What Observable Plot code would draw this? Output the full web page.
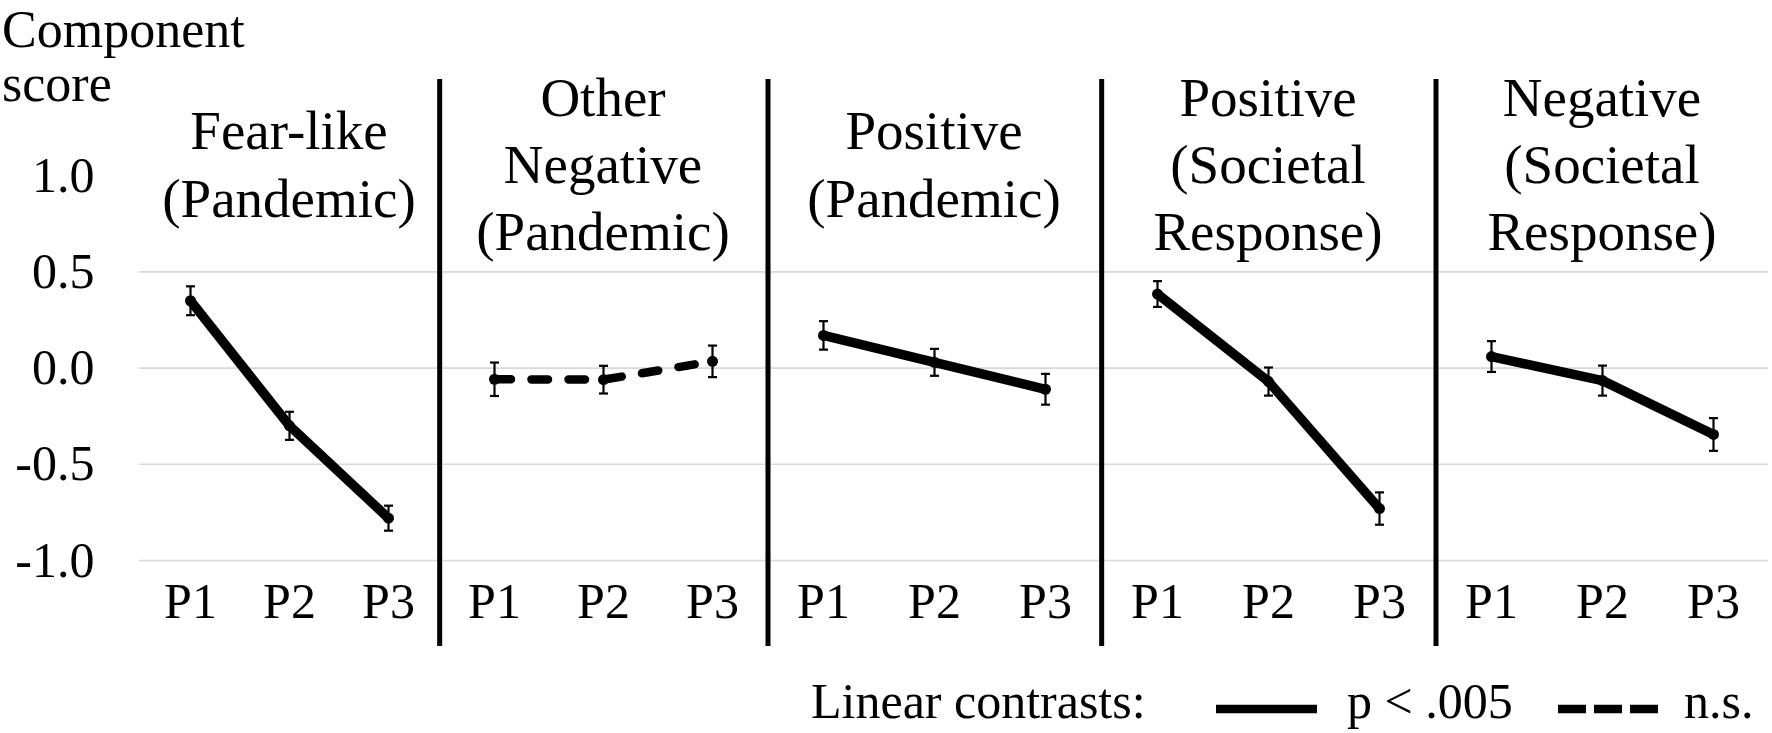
<!DOCTYPE html>
<html>
<head>
<meta charset="utf-8">
<script src="https://cdn.jsdelivr.net/npm/d3@7"></script>
<script src="https://cdn.jsdelivr.net/npm/@observablehq/plot@0.6"></script>
<style>
  html, body { margin: 0; padding: 0; background: #fff; }
  #chart { position: relative; width: 1772px; height: 733px; background: #fff; overflow: hidden; color: #000; }
  .panel { position: absolute; top: 0; }
  .txt { position: absolute; white-space: nowrap; font-size: 50px; line-height: 50px; }
  .ylab { position: absolute; left: 2px; white-space: nowrap; font-size: 52px; line-height: 44px; }
</style>
</head>
<body>
<div id="chart"></div>
<script>
// ---- data ----
const periods = ["P1", "P2", "P3"];
const componentTitles = [
  "Fear-like\n(Pandemic)",
  "Other\nNegative\n(Pandemic)",
  "Positive\n(Pandemic)",
  "Positive\n(Societal\nResponse)",
  "Negative\n(Societal\nResponse)"
];
const fearLikeMean  = [0.35, -0.30, -0.78];
const otherNegMean  = [-0.058, -0.06, 0.035];
const posPandMean   = [0.17, 0.03, -0.11];
const posSocMean    = [0.385, -0.07, -0.73];
const negSocMean    = [0.06, -0.065, -0.345];
const fearLikeErr   = [0.075, 0.073, 0.065];
const otherNegErr   = [0.087, 0.072, 0.082];
const posPandErr    = [0.074, 0.07, 0.08];
const posSocErr     = [0.067, 0.073, 0.084];
const negSocErr     = [0.08, 0.078, 0.085];
const significant   = [true, false, true, true, true];
const yTicks = [-1.0, -0.5, 0.0, 0.5, 1.0];
const gridValues = [-1.0, -0.5, 0.0, 0.5];
const yTitleLines = ["Component", "score"];
const legendTitle = "Linear contrasts:";
const legendLabels = ["p < .005", "n.s."];

const means = [fearLikeMean, otherNegMean, posPandMean, posSocMean, negSocMean];
const errs = [fearLikeErr, otherNegErr, posPandErr, posSocErr, negSocErr];

// ---- layout (styles only) ----
const panelLefts  = [0, 438, 767, 1100, 1435];
const panelWidths = [438, 329, 333, 335, 333];
const firstMarginLeft = 139;
const font = "'Liberation Serif', 'Times New Roman', serif";

const capSymbol = {
  draw(context, size) {
    const w = Math.sqrt(size / Math.PI);
    context.moveTo(-w, 0);
    context.lineTo(w, 0);
  }
};

const chart = document.getElementById("chart");
chart.style.fontFamily = font;

componentTitles.forEach((title, i) => {
  const data = periods.map((p, j) => ({
    period: p,
    mean: means[i][j],
    lo: means[i][j] - errs[i][j],
    hi: means[i][j] + errs[i][j]
  }));
  const ml = i === 0 ? firstMarginLeft : 0;
  const plotW = panelWidths[i] - ml;
  const sig = significant[i];
  const marks = [
    Plot.ruleY(gridValues, {stroke: "#d9d9d9", strokeWidth: 1.6}),
    Plot.line(data, {
      x: "period", y: "mean", stroke: "black", strokeWidth: sig ? 9.5 : 8.5,
      strokeLinejoin: "round", strokeLinecap: sig ? "butt" : "round",
      strokeDasharray: sig ? null : "16.5,20.5"
    }),
    Plot.ruleX(data, {x: "period", y1: "lo", y2: "hi", stroke: "black", strokeWidth: 2.2}),
    Plot.dot(data, {x: "period", y: "lo", symbol: capSymbol, r: 4.5, stroke: "black", strokeWidth: 2.2, fill: "none"}),
    Plot.dot(data, {x: "period", y: "hi", symbol: capSymbol, r: 4.5, stroke: "black", strokeWidth: 2.2, fill: "none"}),
    Plot.dot(data, {x: "period", y: "mean", r: 5.5, fill: "black"}),
    Plot.text([title], {
      text: d => d, frameAnchor: "top", dy: 82, lineAnchor: "middle",
      fontSize: 55, lineHeight: 1.22, fill: "black", fontFamily: font
    })
  ];
  if (i > 0) {
    marks.push(Plot.ruleX([periods[0]], {
      dx: -plotW / 6, insetBottom: -86, stroke: "black", strokeWidth: 5
    }));
  }
  const svg = Plot.plot({
    width: panelWidths[i],
    height: 660,
    marginTop: 79,
    marginBottom: 100,
    marginLeft: ml,
    marginRight: 0,
    x: {type: "point", domain: periods, padding: 0.5, tickSize: 0, tickPadding: 22, label: null},
    y: {
      domain: [-1, 1.5], ticks: yTicks, tickFormat: d => d.toFixed(1),
      tickSize: 0, tickPadding: 45, label: null, axis: i === 0 ? "left" : null
    },
    style: {fontFamily: font, fontSize: "50px", color: "black", background: "transparent", overflow: "visible"},
    marks
  });
  svg.style.fontFamily = font;
  const wrap = document.createElement("div");
  wrap.className = "panel";
  wrap.style.left = panelLefts[i] + "px";
  wrap.appendChild(svg);
  chart.appendChild(wrap);
});

// y title
yTitleLines.forEach((t, k) => {
  const d = document.createElement("div");
  d.className = "ylab";
  d.style.top = (7.5 + 54 * k) + "px";
  d.style.fontFamily = font;
  d.textContent = t;
  chart.appendChild(d);
});

// legend
function addText(str, left) {
  const d = document.createElement("div");
  d.className = "txt";
  d.style.left = left + "px";
  d.style.top = "676px";
  d.style.fontFamily = font;
  d.textContent = str;
  chart.appendChild(d);
}
function addSample(left, dashed) {
  const ns = "http://www.w3.org/2000/svg";
  const s = document.createElementNS(ns, "svg");
  s.setAttribute("width", 101);
  s.setAttribute("height", 20);
  s.style.position = "absolute";
  s.style.left = left + "px";
  s.style.top = "699px";
  const l = document.createElementNS(ns, "line");
  l.setAttribute("x1", 0); l.setAttribute("x2", 101);
  l.setAttribute("y1", 10); l.setAttribute("y2", 10);
  l.setAttribute("stroke", "black");
  l.setAttribute("stroke-width", 8.5);
  if (dashed) l.setAttribute("stroke-dasharray", "28,8");
  s.appendChild(l);
  chart.appendChild(s);
}
addText(legendTitle, 811);
addSample(1216, false);
addText(legendLabels[0], 1347);
addSample(1558, true);
addText(legendLabels[1], 1684);
</script>
</body>
</html>
